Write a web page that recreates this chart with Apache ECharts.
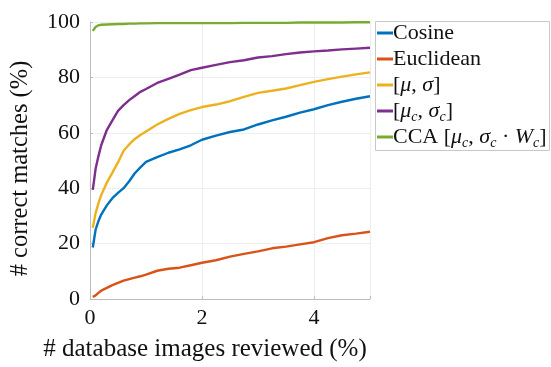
<!DOCTYPE html>
<html>
<head>
<meta charset="utf-8">
<script src="https://cdn.jsdelivr.net/npm/echarts@6/dist/echarts.min.js"></script>
<style>
  html, body { margin: 0; padding: 0; background: #fff; }
  #chart { width: 551px; height: 367px; }
</style>
</head>
<body>
<div id="chart"></div>
<script>
// x positions (% of database reviewed)
const xs = [0.05, 0.1, 0.15, 0.2, 0.3, 0.4, 0.5, 0.6, 0.7, 0.8, 0.9, 1.0, 1.2, 1.4, 1.6, 1.8, 2.0,
  2.25, 2.5, 2.75, 3.0, 3.25, 3.5, 3.75, 4.0, 4.25, 4.5, 4.75, 5.0];

const cosine = [18.6, 25, 28.1, 30.5, 33.8, 36.4, 38.3, 40, 42.5, 45.4, 47.5, 49.5, 51.2, 52.8, 54, 55.5, 57.5,
  59, 60.3, 61.2, 63, 64.5, 65.8, 67.3, 68.5, 70, 71.2, 72.3, 73.2];
const euclidean = [0.7, 1.3, 2.2, 3, 4, 5, 5.8, 6.6, 7.2, 7.7, 8.2, 8.8, 10.2, 10.9, 11.3, 12.2, 13.1,
  14, 15.3, 16.3, 17.2, 18.3, 18.9, 19.7, 20.5, 22, 23, 23.6, 24.3];
const muSigma = [25.7, 31, 34.5, 37.5, 42, 45.6, 49.3, 53.5, 55.8, 57.8, 59.2, 60.5, 63, 65, 66.8, 68.2, 69.3,
  70.2, 71.4, 73, 74.4, 75.2, 76, 77.2, 78.4, 79.4, 80.3, 81.1, 81.8];
const muSigmaC = [39.4, 47, 51.5, 55.5, 61, 64.5, 67.9, 70, 71.8, 73.3, 74.8, 75.8, 78, 79.5, 81, 82.6, 83.5,
  84.5, 85.5, 86.2, 87.2, 87.7, 88.4, 89, 89.4, 89.7, 90.1, 90.4, 90.7];
const cca = [96.8, 98.2, 98.8, 99, 99.1, 99.2, 99.3, 99.3, 99.4, 99.4, 99.5, 99.5, 99.6, 99.6, 99.6, 99.6, 99.6,
  99.6, 99.6, 99.7, 99.7, 99.7, 99.7, 99.8, 99.8, 99.8, 99.8, 99.9, 99.9];

const seriesNames = ['Cosine', 'Euclidean', '[μ,σ]', '[μc,σc]', 'CCA [μc,σc·Wc]'];
const seriesValues = [cosine, euclidean, muSigma, muSigmaC, cca];
const colors = ['#0072BD', '#D95319', '#EDB120', '#7E2F8E', '#77AC30'];

const xTicks = [0, 2, 4];

// legend labels with italic / subscript parts
const legendRich = {
  'Cosine': 'Cosine',
  'Euclidean': 'Euclidean',
  '[μ,σ]': '[{i|μ}, {i|σ}]',
  '[μc,σc]': '[{i|μ}{s|c}, {i|σ}{s|c}]',
  'CCA [μc,σc·Wc]': 'CCA [{i|μ}{s|c}, {i|σ}{s|c} · {i|W}{s|c}]'
};

const serif = '"Liberation Serif", "DejaVu Serif", serif';

const chart = echarts.init(document.getElementById('chart'));

const option = {
  animation: false,
  backgroundColor: '#fff',
  grid: { left: 90, right: 181, top: 22, bottom: 65 },
  legend: {
    orient: 'vertical',
    left: 377,
    top: 20,
    padding: 0,
    icon: 'rect',
    itemWidth: 16,
    itemHeight: 3,
    itemGap: 0,
    data: seriesNames,
    formatter: name => legendRich[name],
    textStyle: {
      fontFamily: serif,
      fontSize: 22,
      color: '#111',
      lineHeight: 26,
      padding: [0, 0, 0, -5],
      rich: {
        i: { fontFamily: serif, fontSize: 22, fontStyle: 'italic', color: '#111', lineHeight: 26 },
        s: { fontFamily: serif, fontSize: 14, fontStyle: 'italic', color: '#111', lineHeight: 26, padding: [12, 0, 0, 0] }
      }
    }
  },
  graphic: [{
    type: 'rect',
    shape: { x: 375.5, y: 21.5, width: 174, height: 129 },
    style: { fill: 'none', stroke: '#c8c8c8', lineWidth: 1 },
    z: 0
  }],
  xAxis: {
    type: 'value',
    min: 0,
    max: 5,
    interval: 2,
    name: '# database images reviewed (%)',
    nameLocation: 'middle',
    nameGap: 38,
    nameTextStyle: { fontFamily: serif, fontSize: 25, color: '#111', padding: [0, 50, 0, 0] },
    axisLine: { lineStyle: { color: '#bcbcbc' } },
    axisTick: { inside: true, length: 3, lineStyle: { color: '#bcbcbc' } },
    axisLabel: {
      fontFamily: serif, fontSize: 22, color: '#111', margin: 8,
      formatter: v => (xTicks.indexOf(v) >= 0 ? String(v) : '')
    },
    splitLine: { show: true, lineStyle: { color: '#eeeeee' } }
  },
  yAxis: {
    type: 'value',
    min: 0,
    max: 100,
    interval: 20,
    name: '# correct matches (%)',
    nameLocation: 'middle',
    nameGap: 57,
    nameTextStyle: { fontFamily: serif, fontSize: 24.5, color: '#111', padding: [0, 16, 0, 0] },
    axisLine: { show: true, lineStyle: { color: '#bcbcbc' } },
    axisTick: { show: true, inside: true, length: 3, lineStyle: { color: '#bcbcbc' } },
    axisLabel: { fontFamily: serif, fontSize: 22, color: '#111', margin: 10 },
    splitLine: { show: true, lineStyle: { color: '#eeeeee' } }
  },
  series: seriesNames.map((name, k) => ({
    name: name,
    type: 'line',
    showSymbol: false,
    symbol: 'none',
    color: colors[k],
    lineStyle: { width: 2.4, color: colors[k] },
    data: xs.map((x, i) => [x, seriesValues[k][i]])
  }))
};

chart.setOption(option);
</script>
</body>
</html>
